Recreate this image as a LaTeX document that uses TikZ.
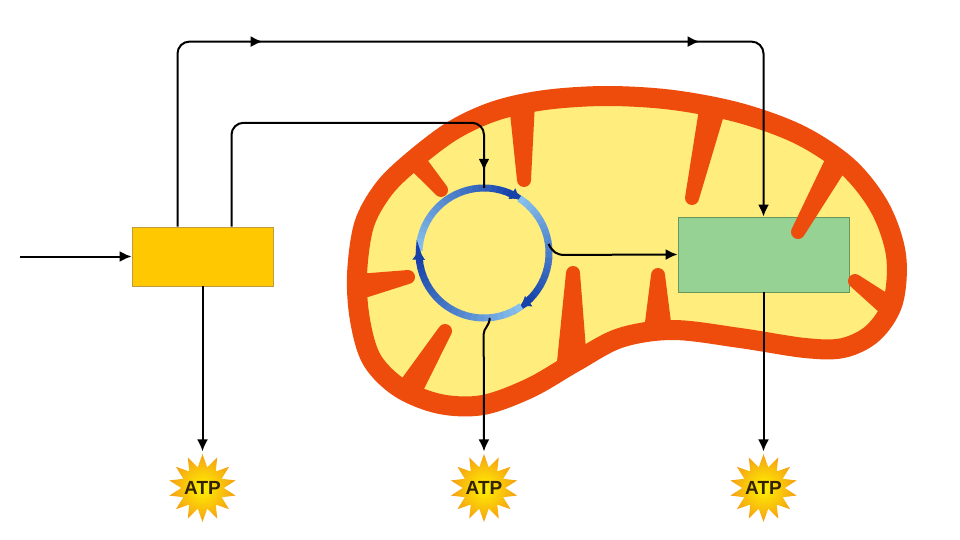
\documentclass[tikz,border=0pt]{standalone}
\usepackage{fontspec}
\setsansfont{Liberation Sans}
\usetikzlibrary{arrows.meta,calc,shapes.geometric,decorations.markings}

\definecolor{mitorim}{RGB}{238,76,12}
\definecolor{mitomatrix}{RGB}{255,238,125}
\definecolor{glyfill}{RGB}{255,200,0}
\definecolor{glyline}{RGB}{190,155,60}
\definecolor{etcfill}{RGB}{150,210,148}
\definecolor{etcline}{RGB}{105,150,90}
\definecolor{krebslight}{RGB}{135,192,236}
\definecolor{krebsdark}{RGB}{22,66,170}
\definecolor{atpin}{RGB}{255,242,0}
\definecolor{atpout}{RGB}{245,160,20}
\definecolor{atpword}{RGB}{50,35,0}

\begin{document}
\begin{tikzpicture}[x=1pt,y=-1pt,
  link/.style={line width=2pt},
  flow/.style={link,-{Latex[length=12pt,width=11pt]}},
  arrowat/.style={postaction={decorate,decoration={markings,
      mark=at position #1 with {\arrow{Latex[length=12pt,width=11pt]}}}}},
  crista/.style={fill=mitorim},
  atp/.style={star,star points=14,star point ratio=1.6,minimum size=68pt,
      inner sep=0pt,shading=radial,inner color=atpin,outer color=atpout},
  atptext/.style={text=atpword,font=\sffamily\bfseries\fontsize{19}{19}\selectfont}]
\useasboundingbox (0,0) rectangle (960,540);

% mitochondrion
\draw[mitorim,line width=20pt,fill=mitomatrix,line join=round]
  plot[smooth cycle,tension=0.55] coordinates {
  (357,275) (364,225) (383,190) (410,163) (452,131) (495,111) (545,100)
  (607,96) (673,100) (740,113) (800,135) (848,167) (880,208) (896,255)
  (893,302) (873,333) (843,348) (805,348) (740,338) (673,330) (620,338)
  (575,362) (530,388) (483,405) (440,404) (400,388) (372,360) (360,320)};

\node[draw=glyline,fill=glyfill,line width=0.8pt,minimum width=141pt,minimum height=59pt] (glyco) at (202.5,256.5) {};
\node[draw=etcline,fill=etcfill,line width=0.8pt,minimum width=171pt,minimum height=75pt] (etc) at (763.5,254.5) {};

% cristae
\foreach \bx/\by/\tx/\ty/\w in {415/160/441/190/10pt, 522/103/524/180/13pt,
    712/110/692/198/13pt, 838/160/798/232/12pt, 893/310/855/281/11pt,
    658/330/658/275/14pt, 572/362/573/273/15pt, 408/392/445/331/13pt,
    357/287/408/277/13pt}
  \fill[crista] ($(\bx,\by)!\w!90:(\tx,\ty)$) -- ($(\tx,\ty)!7pt!-90:(\bx,\by)$)
    -- ($(\tx,\ty)!7pt!90:(\bx,\by)$) -- ($(\bx,\by)!\w!-90:(\tx,\ty)$) -- cycle
    (\tx,\ty) circle (7);

% cycle
\node[circle,minimum size=130pt,inner sep=0pt] (krebs) at (484,253) {};
\foreach \a/\b in {-178/-57,-57/55,55/182} {
  \foreach \i in {0,...,19} {
    \pgfmathtruncatemacro\p{5*\i}
    \pgfmathsetmacro\s{\a+(\b-10-\a)*\i/20}
    \pgfmathsetmacro\e{\a+(\b-10-\a)*(\i+1)/20+0.5}
    \draw[krebsdark!\p!krebslight,line width=7pt] (krebs.center) ++(\s:65)
      arc[start angle=\s,end angle=\e,radius=65];
  }
  \pgfmathsetmacro\m{\b-11}
  \draw[krebsdark,line width=7pt,-{Triangle[length=9pt,width=12pt]}] (krebs.center) ++(\m:65)
    arc[start angle=\m,end angle=\b,radius=65];
}

\node[atp,label={[atptext]center:ATP}] (atp1) at (202.5,488) {};
\node[atp,label={[atptext]center:ATP}] (atp2) at (484,488) {};
\node[atp,label={[atptext]center:ATP}] (atp3) at (763.5,488) {};

% connectors
\coordinate (inflow) at (20,256.5);
\draw[flow] (inflow) -- (glyco.west);
\draw[flow,rounded corners=12pt,arrowat=265pt,arrowat=702pt]
  ([xshift=-25pt]glyco.north) |- ($(etc.north)+(0,-175)$) -- (etc.north);
\draw[link,rounded corners=12pt,arrowat=-17pt]
  ([xshift=29pt]glyco.north) |- ($(krebs.north)+(0,-65)$) -- (krebs.north);
\draw[flow] (krebs.8) .. controls +(4,8) and +(-8,0) .. ++(16,11) -- (etc.west);
\draw[flow,shorten >=2pt] (glyco.south) -- (atp1.north);
\draw[flow,shorten >=2pt] (krebs.-85) .. controls +(0,8) and +(0,-6) .. ++(-6,16) -- (atp2.north);
\draw[flow,shorten >=2pt] (etc.south) -- (atp3.north);
\end{tikzpicture}
\end{document}
